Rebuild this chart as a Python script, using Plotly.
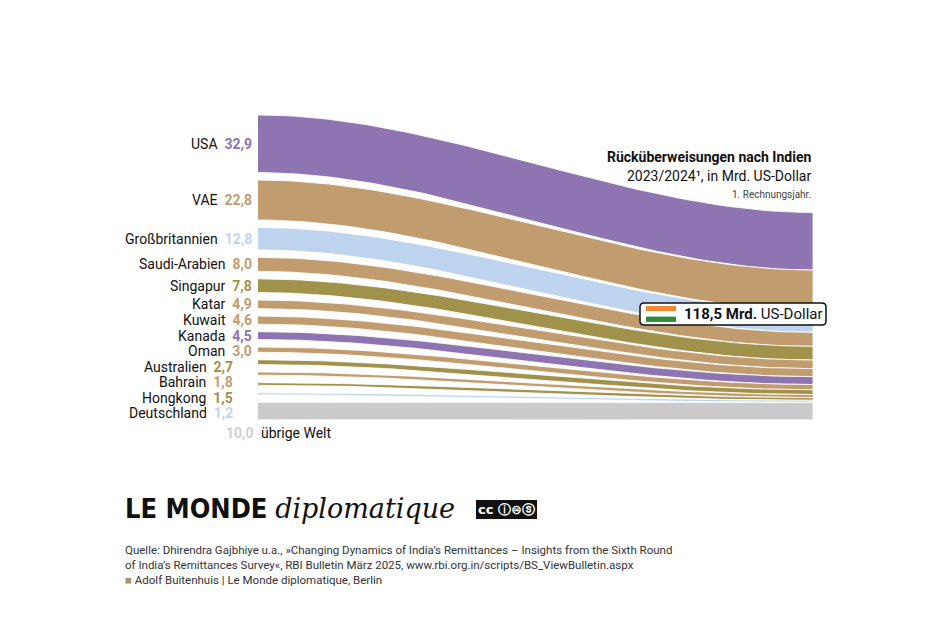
import numpy as np
import plotly.graph_objects as go

countries = ["USA", "VAE", "Großbritannien", "Saudi-Arabien", "Singapur", "Katar", "Kuwait",
             "Kanada", "Oman", "Australien", "Bahrain", "Hongkong", "Deutschland", "übrige Welt"]
values = [32.9, 22.8, 12.8, 8.0, 7.8, 4.9, 4.6, 4.5, 3.0, 2.7, 1.8, 1.5, 1.2, 10.0]
value_labels = ["32,9", "22,8", "12,8", "8,0", "7,8", "4,9", "4,6", "4,5", "3,0", "2,7", "1,8", "1,5", "1,2", "10,0"]
total_label = "118,5"

PURPLE, TAN, BLUE, OLIVE, GREY = "#8e74b0", "#c19c6e", "#bed4ee", "#a0924a", "#cbcbcb"
colors = [PURPLE, TAN, BLUE, TAN, OLIVE, TAN, TAN, PURPLE, TAN, OLIVE, TAN, OLIVE, BLUE, GREY]

FONT = "Roboto, sans-serif"
PX = 1.75  # pixels per Mrd. US-Dollar
W, H = 944, 625
OFF = 8  # page body margin
X0, X1 = 258, 813
gap = 7.5 / PX
top_left = 115 / PX
total = sum(values)
bottom = top_left + total + gap * (len(values) - 1)
top_right = bottom - total

fig = go.Figure()
t = np.linspace(0, 1, 80)
s = t * t * (3 - 2 * t)
xs = X0 + (X1 - X0) * t

yl, yr = top_left, top_right
centers = []
for c, v, col in zip(countries, values, colors):
    a = yl + (yr - yl) * s
    b = a + v
    fig.add_trace(go.Scatter(
        x=np.concatenate([xs, xs[::-1]]), y=np.concatenate([a, b[::-1]]),
        fill="toself", fillcolor=col, mode="lines",
        line=dict(color="white", width=0.8), hoverinfo="skip", showlegend=False))
    centers.append(yl + v / 2)
    yl += v + gap
    yr += v

# labels, pushed apart where bands are thin
min_sep = 15.5 / PX
prev = -1e9
for i, (c, lab, col, cy) in enumerate(zip(countries, value_labels, colors, centers)):
    if c == "übrige Welt":
        y = 433 / PX
        fig.add_annotation(x=X0 - 2, y=y, text=f"<b>{lab}</b>", xanchor="right", showarrow=False,
                           font=dict(size=14, color="#d0d0d0", family=FONT))
        fig.add_annotation(x=X0 + 1, y=y, text=c, xanchor="left", showarrow=False,
                           font=dict(size=14, color="#111", family=FONT))
        continue
    y = max(cy, prev + min_sep)
    prev = y
    xv = 254 if i < 9 else 235
    fig.add_annotation(x=xv, y=y, xanchor="right", showarrow=False,
                       text=f"{c}  <b><span style='color:{col}'>{lab}</span></b>",
                       font=dict(size=14, color="#111", family=FONT))

# title block
fig.add_annotation(x=X1, y=157 / PX, text="<b>Rücküberweisungen nach Indien</b>", xanchor="right",
                   showarrow=False, font=dict(size=14, color="#111", family=FONT))
fig.add_annotation(x=X1, y=176 / PX, text="2023/2024¹, in Mrd. US-Dollar", xanchor="right",
                   showarrow=False, font=dict(size=14, color="#111", family=FONT))
fig.add_annotation(x=X1, y=194 / PX, text="1. Rechnungsjahr.", xanchor="right",
                   showarrow=False, font=dict(size=10, color="#444", family=FONT))

# total badge with flag
fig.add_shape(type="path", path=f"M 644,{303/PX} L 822,{303/PX} Q 826,{303/PX} 826,{307/PX} "
              f"L 826,{321/PX} Q 826,{325/PX} 822,{325/PX} L 644,{325/PX} Q 640,{325/PX} 640,{321/PX} "
              f"L 640,{307/PX} Q 640,{303/PX} 644,{303/PX} Z",
              line=dict(color="#111", width=1.5), fillcolor="white", layer="above")
for k, fc in enumerate(["#f08a30", "white", "#2e8b3a"]):
    fig.add_shape(type="rect", x0=646, x1=676, y0=(306 + 5.3 * k) / PX, y1=(311.3 + 5.3 * k) / PX,
                  line=dict(width=0), fillcolor=fc, layer="above")
fig.add_annotation(x=682, y=314 / PX, text=f"<b>{total_label} Mrd.</b> US-Dollar", xanchor="left",
                   showarrow=False, font=dict(size=15, color="#111", family=FONT))

# logo and source
fig.add_annotation(x=123, y=508 / PX, xanchor="left", showarrow=False,
                   text="<b>LE MONDE</b> <i><span style='font-family:DejaVu Serif'>diplomatique</span></i>",
                   font=dict(size=27, color="#111", family="DejaVu Sans Condensed, " + FONT))
fig.add_annotation(x=476, y=509 / PX, xanchor="left", showarrow=False, text="<b>cc ⓘ⊜ⓢ</b>",
                   font=dict(size=13, color="white", family="DejaVu Sans"), bgcolor="#111",
                   bordercolor="#111")
src = ("Quelle: Dhirendra Gajbhiye u.a., »Changing Dynamics of India’s Remittances – Insights from the Sixth Round<br>"
       "of India’s Remittances Survey«, RBI Bulletin März 2025, www.rbi.org.in/scripts/BS_ViewBulletin.aspx<br>"
       "<span style='color:#a8936a'>■</span> Adolf Buitenhuis | Le Monde diplomatique, Berlin")
fig.add_annotation(x=123, y=541 / PX, xanchor="left", yanchor="top", showarrow=False, align="left",
                   text=src, font=dict(size=11.5, color="#333", family=FONT))

fig.update_xaxes(range=[OFF, W + OFF], visible=False)
fig.update_yaxes(range=[(H + OFF) / PX, OFF / PX], visible=False)
fig.update_layout(width=W, height=H, margin=dict(l=0, r=0, t=0, b=0),
                  plot_bgcolor="white", paper_bgcolor="white")
fig.write_html("out.html")
